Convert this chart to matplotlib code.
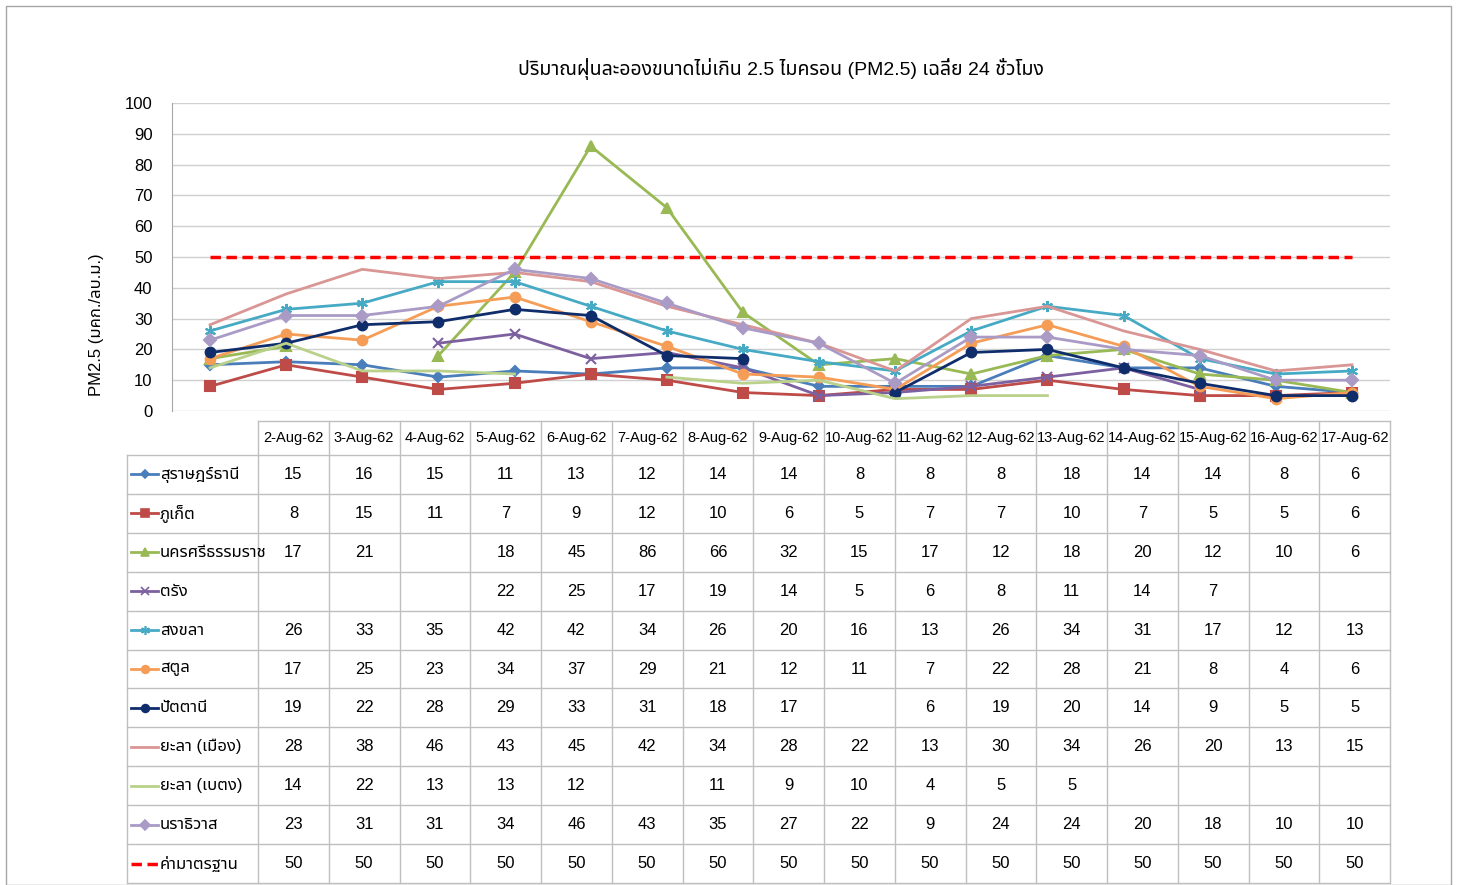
import numpy as np
import matplotlib
matplotlib.use('Agg')
from matplotlib import pyplot as plt
from matplotlib import font_manager, ft2font
from matplotlib.patches import Rectangle
from matplotlib.lines import Line2D

nan = np.nan

# วันที่
dates = ['2-Aug-62', '3-Aug-62', '4-Aug-62', '5-Aug-62', '6-Aug-62', '7-Aug-62',
         '8-Aug-62', '9-Aug-62', '10-Aug-62', '11-Aug-62', '12-Aug-62', '13-Aug-62',
         '14-Aug-62', '15-Aug-62', '16-Aug-62', '17-Aug-62']

surat = [15, 16, 15, 11, 13, 12, 14, 14, 8, 8, 8, 18, 14, 14, 8, 6]
phuket = [8, 15, 11, 7, 9, 12, 10, 6, 5, 7, 7, 10, 7, 5, 5, 6]
nakhon = [17, 21, nan, 18, 45, 86, 66, 32, 15, 17, 12, 18, 20, 12, 10, 6]
trang = [nan, nan, nan, 22, 25, 17, 19, 14, 5, 6, 8, 11, 14, 7, nan, nan]
songkhla = [26, 33, 35, 42, 42, 34, 26, 20, 16, 13, 26, 34, 31, 17, 12, 13]
satun = [17, 25, 23, 34, 37, 29, 21, 12, 11, 7, 22, 28, 21, 8, 4, 6]
pattani = [19, 22, 28, 29, 33, 31, 18, 17, nan, 6, 19, 20, 14, 9, 5, 5]
yala_muang = [28, 38, 46, 43, 45, 42, 34, 28, 22, 13, 30, 34, 26, 20, 13, 15]
yala_betong = [14, 22, 13, 13, 12, nan, 11, 9, 10, 4, 5, 5, nan, nan, nan, nan]
narathiwat = [23, 31, 31, 34, 46, 43, 35, 27, 22, 9, 24, 24, 20, 18, 10, 10]
standard = [50] * 16

names = ['สุราษฎร์ธานี', 'ภูเก็ต', 'นครศรีธรรมราช', 'ตรัง', 'สงขลา', 'สตูล',
         'ปัตตานี', 'ยะลา (เมือง)', 'ยะลา (เบตง)', 'นราธิวาส', 'ค่ามาตรฐาน']
series = [surat, phuket, nakhon, trang, songkhla, satun, pattani,
          yala_muang, yala_betong, narathiwat, standard]

colors = ['#4A7EBB', '#BE4B48', '#98B954', '#7D60A0', '#46AAC5', '#F59D56',
          '#0F2C6B', '#D99694', '#B9D18A', '#A99BC6', '#FF0000']
markers = ['D', 's', '^', 'x', (6, 2, 0), 'o', 'o', None, None, 'D', None]
msizes = [5, 7, 7, 7, 8, 7, 7, 0, 0, 6, 0]


# ฟอนต์ที่มีอักษรไทย
def thai_font():
    prefer = ['Tahoma', 'Noto Sans Thai', 'Loma', 'Garuda', 'Norasi', 'Sarabun']
    found = []
    for f in font_manager.fontManager.ttflist:
        try:
            if 0x0E01 in ft2font.FT2Font(f.fname).get_charmap():
                found.append(f.name)
        except Exception:
            pass
    for p in prefer:
        if p in found:
            return p
    return found[0] if found else None


tf = thai_font()
fam = ['Liberation Sans'] + ([tf] if tf else []) + ['DejaVu Sans']
plt.rcParams['font.family'] = fam

W, H = 1457, 885
fig = plt.figure(figsize=(W / 100, H / 100), dpi=100)

# กรอบนอก
fig.patches.append(Rectangle((6 / W, 0), 1445 / W, 879 / H, transform=fig.transFigure,
                             fill=False, edgecolor='#A6A6A6', lw=1))

ax = fig.add_axes([172 / W, (H - 411) / H, 1218 / W, 308 / H])
x = np.arange(len(dates))
for i, s in enumerate(series):
    if i == len(series) - 1:
        ax.plot(x, s, color=colors[i], lw=2.5, linestyle=(0, (3, 1.6)), zorder=5)
    else:
        ax.plot(x, s, color=colors[i], lw=2, marker=markers[i], ms=msizes[i],
                mec=colors[i], mew=1.5, zorder=3)

ax.set_xlim(-0.5, len(dates) - 0.5)
ax.set_ylim(0, 100)
ax.set_yticks(range(0, 101, 10))
ax.set_xticks([])
ax.grid(axis='y', color='#D0D0D0', lw=1)
ax.set_axisbelow(True)
for sp in ['top', 'right', 'bottom']:
    ax.spines[sp].set_visible(False)
ax.spines['left'].set_color('#A6A6A6')
ax.tick_params(axis='y', length=0, pad=14, labelsize=12)
ax.set_ylabel('PM2.5 (มคก./ลบ.ม.)', fontsize=12)
ax.yaxis.set_label_coords(-0.056, 0.28)
ax.set_title('ปริมาณฝุ่นละอองขนาดไม่เกิน 2.5 ไมครอน (PM2.5) เฉลี่ย 24 ชั่วโมง',
             fontsize=14, pad=20)

# ตารางข้อมูล (พิกัดเป็นพิกเซล)
tab = fig.add_axes([0, 0, 1, 1])
tab.set_xlim(0, W)
tab.set_ylim(H, 0)
tab.axis('off')

left, c0, right = 127, 258, 1390
htop, rtop, rbot = 421, 455, 883
ncol = len(dates)
cw = (right - c0) / ncol
rh = (rbot - rtop) / len(names)
gc = '#BFBFBF'

# เส้นตาราง
tab.plot([c0, right], [htop, htop], color=gc, lw=1)
for j in range(ncol + 1):
    xx = c0 + j * cw
    tab.plot([xx, xx], [htop, rbot], color=gc, lw=1)
tab.plot([left, left], [rtop, rbot], color=gc, lw=1)
for r in range(len(names) + 1):
    yy = rtop + r * rh
    tab.plot([left, right], [yy, yy], color=gc, lw=1)

for j, d in enumerate(dates):
    tab.text(c0 + (j + 0.5) * cw, (htop + rtop) / 2, d, ha='center', va='center',
             fontsize=10.5)

for r, (nm, s) in enumerate(zip(names, series)):
    yc = rtop + (r + 0.5) * rh
    if r == len(names) - 1:
        tab.add_line(Line2D([131, 158], [yc, yc], color=colors[r], lw=2.5,
                            linestyle=(0, (3, 1.6))))
    else:
        tab.add_line(Line2D([131, 158], [yc, yc], color=colors[r], lw=2))
        if markers[r] is not None:
            tab.add_line(Line2D([144.5], [yc], color=colors[r], marker=markers[r],
                                ms=msizes[r] * 0.8, mec=colors[r], mew=1.2))
    tab.text(160, yc, nm, ha='left', va='center', fontsize=12)
    for j, v in enumerate(s):
        if not np.isnan(v):
            tab.text(c0 + (j + 0.5) * cw, yc, f'{v:g}', ha='center', va='center',
                     fontsize=12)

fig.savefig('out.png', dpi=100)
